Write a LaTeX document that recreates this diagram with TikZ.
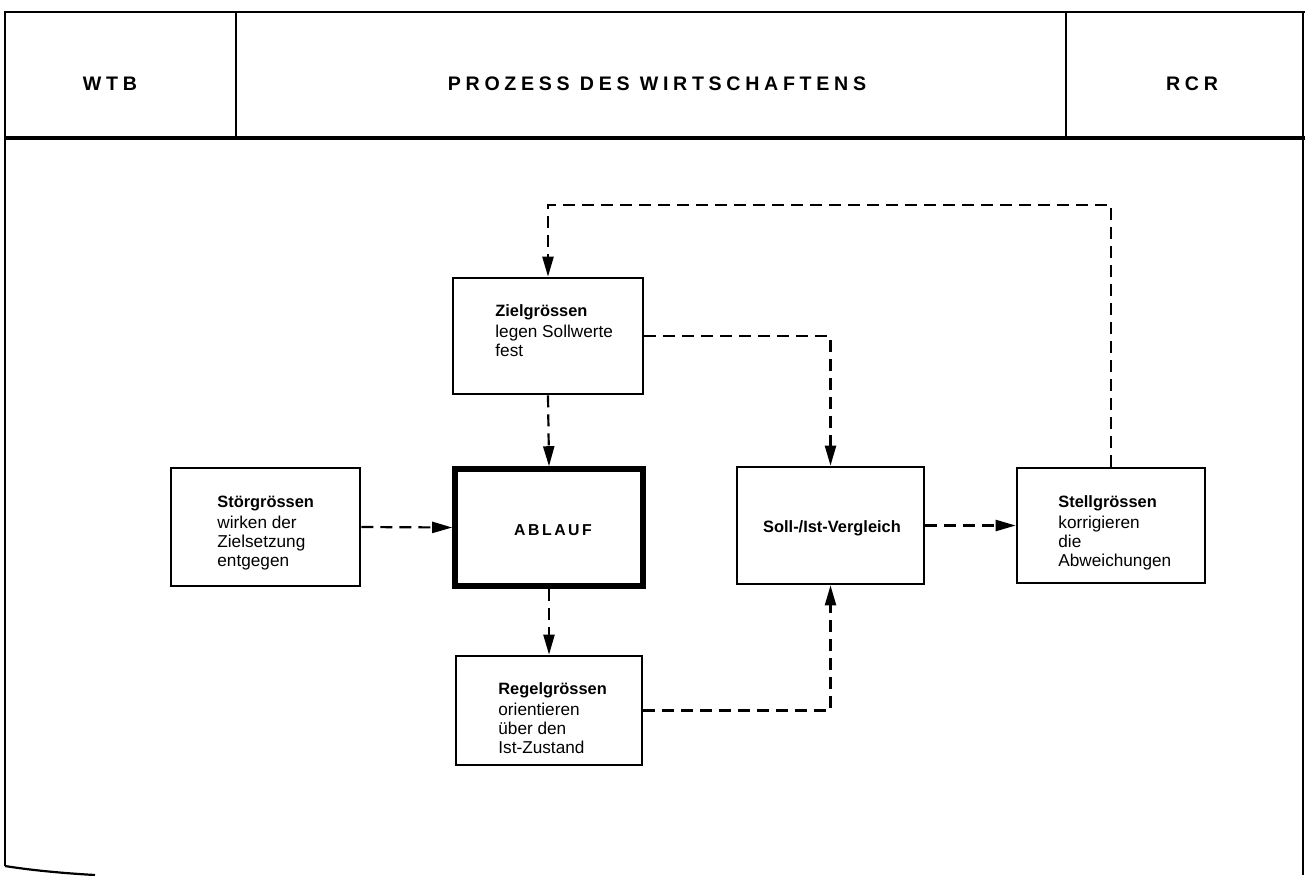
\documentclass[tikz,border=0pt]{standalone}
\usepackage{fontspec}
\setmainfont{Liberation Sans}
\newfontfamily\hdrfont[LetterSpace=24]{Liberation Sans}
\newfontfamily\abfont[LetterSpace=16]{Liberation Sans}
\usetikzlibrary{arrows.meta,fit}
\newcommand\hdb{\fontsize{8.2}{9.5}\selectfont\bfseries}

\begin{document}
\begin{tikzpicture}[x=0.5pt,y=-0.5pt,
  box/.style={draw, line width=1.3pt, inner sep=0pt},
  mainbox/.style={draw, line width=2.8pt, inner sep=0pt},
  txt/.style={anchor=north west, inner sep=0pt, align=left, font=\fontsize{8.6}{9.5}\selectfont},
  conn/.style={line width=1.1pt, dash pattern=on 6pt off 3.5pt, -{Triangle[length=10pt,width=5.5pt]}},
  hdr/.style={font=\hdrfont\bfseries\fontsize{9.8}{11}\selectfont, anchor=base, inner sep=0pt},
  frame/.style={line width=1.1pt}]
\useasboundingbox (0,0) rectangle (1305,875);

% frame and header
\draw[frame] (5,866) -- (5,12) -- (1305,12);
\draw[frame] (5,866) .. controls (30,870) and (60,873) .. (95,875);
\draw[frame] (1303,12) -- (1303,875);
\draw[line width=1.6pt] (5,138) -- (1305,138);
\draw[line width=0.8pt] (236,12) -- (236,138);
\draw[line width=0.8pt] (1066,12) -- (1066,138);
\node[hdr] (wtb) at (110,90) {WTB};
\node[hdr] (title) at (657,90) {PROZESS DES WIRTSCHAFTENS};
\node[hdr] (rcr) at (1192,90) {RCR};

% boxes
\node[box, fit={(171,468) (360,586)}] (stoer) {};
\node[box, fit={(453,278) (643,394)}] (ziel) {};
\node[mainbox, fit={(455,469) (643,586)}] (ablauf) {};
\node[box, fit={(737,467) (924,584)}] (soll) {};
\node[box, fit={(1017,468) (1205,583)}] (stell) {};
\node[box, fit={(456,656) (642,765)}] (regel) {};

% texts
\node[txt] (stoert) at (217,496) {{\hdb Störgrössen}\\[1pt]wirken der\\Zielsetzung\\entgegen};
\node[txt] (zielt) at (495,304) {{\hdb Zielgrössen}\\[1pt]legen Sollwerte\\fest};
\node[txt] (regelt) at (498,682) {{\hdb Regelgrössen}\\[1pt]orientieren\\über den\\Ist-Zustand};
\node[txt] (stellt) at (1058,495) {{\hdb Stellgrössen}\\[1pt]korrigieren\\die\\Abweichungen};
\node[inner sep=0pt, anchor=base, font=\abfont\bfseries\fontsize{7.9}{9}\selectfont] (ablauft) at (553,535) {ABLAUF};
\node[inner sep=0pt, anchor=base, font=\fontsize{8.2}{9}\selectfont\bfseries] (sollt) at (832,532) {Soll-/Ist-Vergleich};

% connectors
\coordinate (rt) at (1111,205);
\coordinate (lt) at (548,205);
\draw[conn] (stell.north) -- (rt) -- (lt) -- (ziel.north);
\draw[conn] (ziel.east) -| (soll.north);
\draw[conn] (ziel.south) -- (ablauf.north);
\draw[conn] (stoer.east) -- (ablauf.west);
\draw[conn] (ablauf.south) -- (regel.north);
\draw[conn] (regel.east) -| (soll.south);
\draw[conn] (soll.east) -- (stell.west);
\end{tikzpicture}
\end{document}
